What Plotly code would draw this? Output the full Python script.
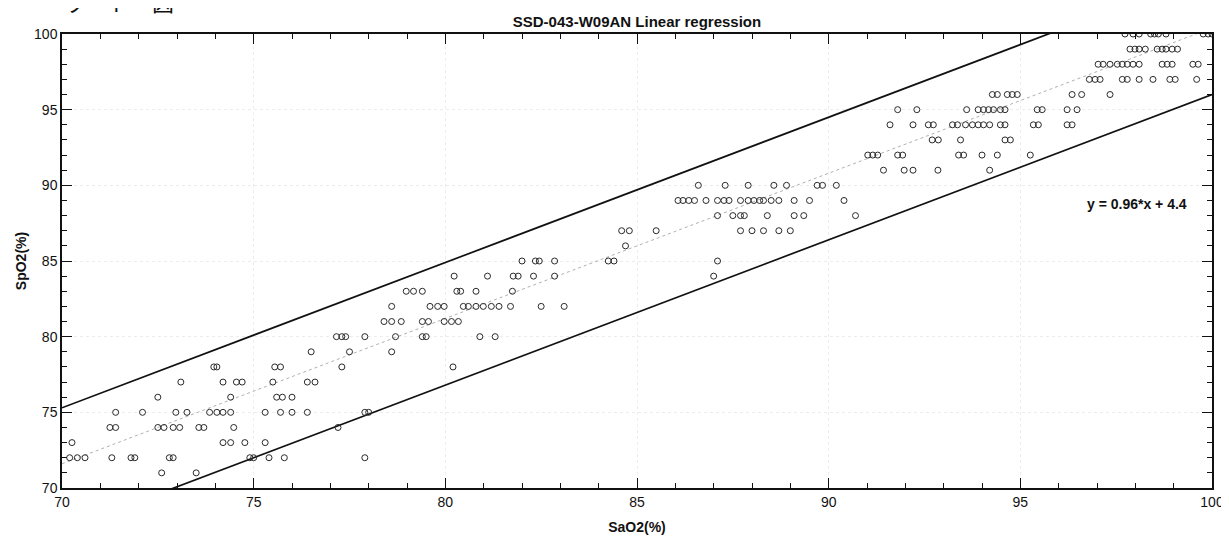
import plotly.graph_objects as go

# ---- data ----
title_text = "SSD-043-W09AN Linear regression"
x_title = "SaO2(%)"
y_title = "SpO2(%)"
header_text = "ッ　ト　図"

slope = 0.96
intercept = 4.4
upper_offset = 3.7
lower_offset = -4.4

x_range = [70, 100]
y_range = [70, 100]

rows = {}
rows[100] = [97.73, 97.94, 98.1, 98.4, 98.5, 98.6, 98.8, 99.77, 99.9, 100.0]
rows[99] = [97.86, 97.99, 98.1, 98.26, 98.57, 98.7, 98.8, 98.96, 99.1]
rows[98] = [97.03, 97.16, 97.34, 97.53, 97.66, 97.79, 97.94, 98.1, 98.7, 98.83, 98.96, 99.5, 99.64]
rows[97] = [96.8, 96.95, 97.08, 97.66, 97.79, 98.1, 98.46, 98.9, 99.04, 99.6]
rows[96] = [94.27, 94.4, 94.66, 94.79, 94.92, 96.35, 96.6, 97.34]
rows[95] = [91.8, 92.3, 93.6, 93.9, 94.04, 94.17, 94.3, 94.48, 94.6, 95.44, 95.57, 96.22, 96.48]
rows[94] = [91.6, 92.2, 92.6, 92.73, 93.23, 93.36, 93.57, 93.75, 93.9, 94.04, 94.2, 94.48, 94.6, 95.34, 95.47, 96.22, 96.35]
rows[93] = [92.7, 92.86, 93.44, 94.6, 94.74]
rows[92] = [91.02, 91.15, 91.28, 91.8, 91.93, 93.39, 93.52, 94.0, 94.4, 95.26]
rows[91] = [91.43, 91.97, 92.2, 92.85, 94.2]
rows[90] = [86.6, 87.3, 87.9, 88.57, 88.9, 89.7, 89.84, 90.2]
rows[89] = [86.07, 86.2, 86.35, 86.5, 86.8, 87.1, 87.27, 87.4, 87.7, 87.9, 88.05, 88.2, 88.3, 88.5, 88.7, 89.1, 89.5, 90.4]
rows[88] = [87.1, 87.5, 87.7, 87.8, 88.4, 89.1, 89.35, 90.7]
rows[87] = [84.6, 84.8, 85.5, 87.7, 88.0, 88.3, 88.7, 89.0]
rows[86] = [84.7]
rows[85] = [82.0, 82.35, 82.45, 82.85, 84.25, 84.4, 87.1]
rows[84] = [80.23, 81.1, 81.77, 81.9, 82.3, 82.85, 87.0]
rows[83] = [78.98, 79.17, 79.4, 80.3, 80.4, 80.8, 81.75]
rows[82] = [78.6, 79.6, 79.8, 79.97, 80.47, 80.6, 80.8, 80.99, 81.2, 81.4, 81.7, 82.5, 83.1]
rows[81] = [78.4, 78.6, 78.85, 79.4, 79.56, 79.97, 80.16, 80.34]
rows[80] = [77.16, 77.3, 77.4, 77.9, 78.7, 79.4, 79.5, 80.9, 81.3]
rows[79] = [76.5, 77.5, 78.6]
rows[78] = [73.96, 74.04, 75.55, 75.7, 77.3, 80.2]
rows[77] = [73.1, 74.2, 74.55, 74.7, 75.5, 76.4, 76.6]
rows[76] = [72.5, 74.4, 75.6, 75.75, 76.0]
rows[75] = [71.4, 72.1, 72.97, 73.26, 73.85, 74.04, 74.2, 74.4, 75.3, 75.7, 76.0, 76.4, 77.9, 78.0]
rows[74] = [71.25, 71.4, 72.5, 72.66, 72.9, 73.07, 73.57, 73.7, 74.48, 77.2]
rows[73] = [70.26, 74.2, 74.4, 74.77, 75.3]
rows[72] = [70.2, 70.4, 70.6, 71.3, 71.8, 71.9, 72.8, 72.9, 74.9, 75.0, 75.4, 75.8, 77.9]
rows[71] = [72.6, 73.5]

sao2 = []
spo2 = []
for yv, xs in rows.items():
    for xv in xs:
        sao2.append(xv)
        spo2.append(yv)

line_x = [x_range[0], x_range[1]]
fit_y = [slope * v + intercept for v in line_x]
up_y = [slope * v + intercept + upper_offset for v in line_x]
lo_y = [slope * v + intercept + lower_offset for v in line_x]

FONT = "Liberation Sans, Arial, sans-serif"

fig = go.Figure()
fig.add_trace(go.Scatter(x=line_x, y=fit_y, mode="lines",
                         line=dict(color="#b0b0b0", width=1, dash="dot"),
                         hoverinfo="skip", showlegend=False))
fig.add_trace(go.Scatter(x=line_x, y=up_y, mode="lines",
                         line=dict(color="#111111", width=1.7),
                         hoverinfo="skip", showlegend=False))
fig.add_trace(go.Scatter(x=line_x, y=lo_y, mode="lines",
                         line=dict(color="#111111", width=1.7),
                         hoverinfo="skip", showlegend=False))
fig.add_trace(go.Scatter(x=sao2, y=spo2, mode="markers",
                         marker=dict(symbol="circle-open", size=6,
                                     color="#2a2a2a", line=dict(width=1)),
                         showlegend=False))

axis_common = dict(
    showline=True, linecolor="#111111", linewidth=1.5, mirror="ticks",
    ticks="inside", ticklen=10, tickwidth=1.3, tickcolor="#111111",
    showgrid=True, gridcolor="#ececec", griddash="dot", gridwidth=1,
    zeroline=False, dtick=5,
    minor=dict(ticks="inside", ticklen=5, tickwidth=1, tickcolor="#111111",
               dtick=1, showgrid=False),
    tickfont=dict(family=FONT, size=14, color="#111111"),
)

fig.update_xaxes(range=x_range, tick0=70,
                 title=dict(text=x_title, font=dict(family=FONT, size=14, color="#111111", weight="bold"), standoff=14),
                 **axis_common)
fig.update_yaxes(range=y_range, tick0=70,
                 title=dict(text=y_title, font=dict(family=FONT, size=14, color="#111111", weight="bold"), standoff=4),
                 **axis_common)

fig.update_layout(
    width=1229, height=537,
    margin=dict(l=52, r=25, t=26, b=55),
    plot_bgcolor="white", paper_bgcolor="white",
    title=dict(text=title_text, x=629 / 1229, xanchor="center", y=1 - 14 / 537, yanchor="middle",
               font=dict(family=FONT, size=15, color="#111111", weight="bold")),
    annotations=[
        dict(text=f"y = {slope}*x + {intercept}", x=99.4, y=88.75, xref="x", yref="y",
             xanchor="right", yanchor="middle", showarrow=False,
             font=dict(family=FONT, size=14, color="#111111", weight="bold")),
        dict(text=header_text, x=0.0, y=1 + 15 / 456, xref="paper", yref="paper",
             xanchor="left", yanchor="bottom", showarrow=False,
             font=dict(family="Noto Sans CJK JP", size=22, color="#111111")),
    ],
)

fig.write_html("out.html")
